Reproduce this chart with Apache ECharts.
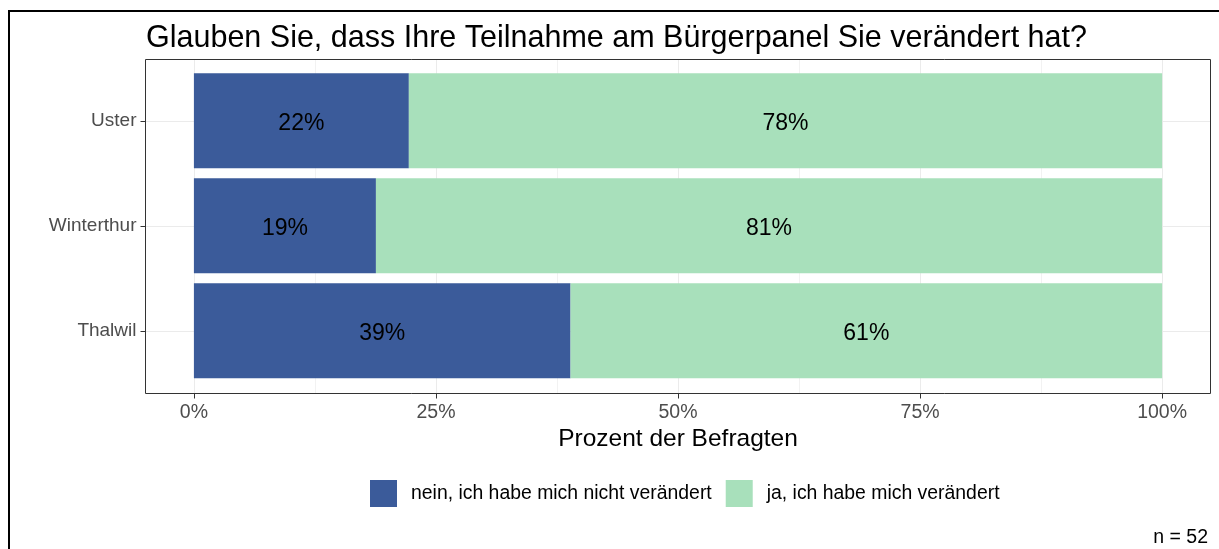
<!DOCTYPE html>
<html>
<head>
<meta charset="utf-8">
<script src="https://cdn.jsdelivr.net/npm/echarts@6/dist/echarts.min.js"></script>
<style>
  html, body { margin: 0; padding: 0; background: #fff; }
  #chart { width: 1219px; height: 549px; }
</style>
</head>
<body>
<div id="chart"></div>
<script>
// Daten
const cities = ['Uster', 'Winterthur', 'Thalwil'];
const neinValues = [22.2, 18.8, 38.9];
const jaValues = [77.8, 81.2, 61.1];
const seriesNames = ['nein, ich habe mich nicht verändert', 'ja, ich habe mich verändert'];
const seriesColors = ['#3B5B9A', '#A8E0BB'];

// Panel in Pixel (x-Achse -5% .. 105%)
const panelLeft = 145.5, panelTop = 59.5, panelW = 1065, panelH = 334;
const dataLeft = panelLeft + panelW * 5 / 110, dataW = panelW * 100 / 110;

let myChart = echarts.init(document.getElementById('chart'));

function barLabel() {
    return {
        show: true,
        position: 'inside',
        offset: [0, 3],
        color: '#000',
        fontSize: 23,
        formatter: function (p) { return Math.round(p.value) + '%'; }
    };
}

let option = {
    animation: false,
    textStyle: { fontFamily: 'Liberation Sans, Arial, sans-serif' },
    title: [
        {
            text: 'Glauben Sie, dass Ihre Teilnahme am Bürgerpanel Sie verändert hat?',
            left: 146, top: 23, padding: 0,
            textStyle: { fontSize: 30.5, fontWeight: 'normal', color: '#000' }
        },
        {
            text: 'Prozent der Befragten',
            left: 678, top: 427, padding: 0, textAlign: 'center',
            textStyle: { fontSize: 24.5, fontWeight: 'normal', color: '#000' }
        },
        {
            text: 'n = 52',
            right: 11, top: 528, padding: 0,
            textStyle: { fontSize: 19.5, fontWeight: 'normal', color: '#000' }
        }
    ],
    legend: {
        left: 370, top: 480, padding: 0,
        itemWidth: 27, itemHeight: 27, itemGap: 14,
        icon: 'rect',
        data: seriesNames,
        textStyle: { fontSize: 19.4, color: '#000', padding: [0, 0, 0, 9] }
    },
    grid: [
        // 0: vertikale Gitterlinien + x-Achse
        { left: dataLeft, top: panelTop, width: dataW, height: panelH },
        // 1: Balken
        { left: panelLeft, top: 68.3, width: panelW, height: 315 },
        // 2: horizontale Gitterlinien
        { left: panelLeft, top: 120.8, width: panelW, height: 210 }
    ],
    xAxis: [
        {
            gridIndex: 0, type: 'value', min: 0, max: 100, interval: 12.5,
            axisLine: { show: false }, axisTick: { show: false }, axisLabel: { show: false },
            splitLine: { lineStyle: { color: '#F2F2F2', width: 1 } }
        },
        {
            gridIndex: 0, type: 'value', min: 0, max: 100, interval: 25, position: 'bottom',
            axisLine: { show: false },
            axisTick: { show: true, length: 5, lineStyle: { color: '#333' } },
            axisLabel: { fontSize: 19.5, color: '#4D4D4D', margin: 9, formatter: '{value}%' },
            splitLine: { lineStyle: { color: '#EBEBEB', width: 1 } }
        },
        { gridIndex: 1, type: 'value', min: -5, max: 105, show: false },
        { gridIndex: 2, type: 'value', min: 0, max: 1, show: false }
    ],
    yAxis: [
        { gridIndex: 0, type: 'value', show: false },
        {
            gridIndex: 1, type: 'category', data: cities, inverse: true, position: 'left',
            axisLine: { show: false, onZero: false },
            axisTick: { show: true, alignWithLabel: true, length: 5, lineStyle: { color: '#333' } },
            axisLabel: { fontSize: 19, color: '#4D4D4D', margin: 9, padding: [4, 0, 0, 0] },
            splitLine: { show: false }
        },
        {
            gridIndex: 2, type: 'value', min: 0, max: 2, interval: 1,
            axisLine: { show: false }, axisTick: { show: false }, axisLabel: { show: false },
            splitLine: { show: true, lineStyle: { color: '#EBEBEB', width: 1 } }
        }
    ],
    series: [
        {
            name: seriesNames[0], type: 'bar', stack: 'total',
            xAxisIndex: 2, yAxisIndex: 1,
            barCategoryGap: '9.5%',
            itemStyle: { color: seriesColors[0] },
            label: barLabel(),
            data: neinValues
        },
        {
            name: seriesNames[1], type: 'bar', stack: 'total',
            xAxisIndex: 2, yAxisIndex: 1,
            barCategoryGap: '9.5%',
            itemStyle: { color: seriesColors[1] },
            label: barLabel(),
            data: jaValues
        }
    ],
    graphic: [
        {
            type: 'rect', z: 100, silent: true,
            shape: { x: panelLeft, y: panelTop, width: panelW, height: panelH },
            style: { fill: null, stroke: '#333', lineWidth: 1 }
        },
        {
            type: 'polyline', z: 100, silent: true,
            shape: { points: [[9, 549], [9, 11], [1219, 11]] },
            style: { fill: null, stroke: '#000', lineWidth: 2 }
        }
    ]
};
myChart.setOption(option);
</script>
</body>
</html>
